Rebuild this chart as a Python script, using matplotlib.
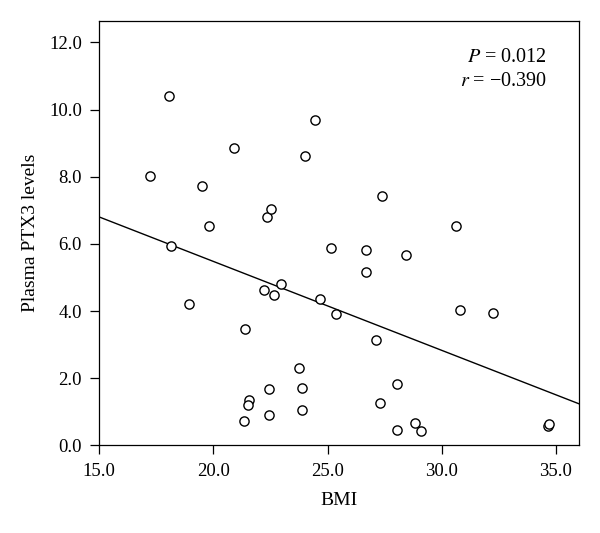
import numpy as np
import matplotlib
matplotlib.use("Agg")
import matplotlib.pyplot as plt

# BMI vs plasma PTX3
bmi = [18.06, 17.21, 20.90, 19.52, 19.80, 22.34, 22.53, 18.14, 24.44, 23.99,
       25.17, 18.91, 22.94, 22.22, 22.65, 24.66, 25.35, 21.39, 23.74, 22.44,
       23.88, 21.56, 21.51, 21.36, 22.44, 23.88, 27.39, 30.64, 26.70, 28.45,
       26.70, 30.79, 32.24, 27.14, 28.04, 27.28, 28.82, 28.04, 29.09, 34.64,
       34.72]
ptx3 = [10.41, 8.02, 8.87, 7.73, 6.52, 6.80, 7.03, 5.94, 9.70, 8.63,
        5.89, 4.21, 4.81, 4.63, 4.47, 4.35, 3.91, 3.46, 2.31, 1.68,
        1.70, 1.34, 1.19, 0.72, 0.90, 1.04, 7.42, 6.53, 5.82, 5.66,
        5.16, 4.02, 3.95, 3.14, 1.83, 1.27, 0.67, 0.46, 0.42, 0.57,
        0.63]
xticks = [15.0, 20.0, 25.0, 30.0, 35.0]
yticks = [0.0, 2.0, 4.0, 6.0, 8.0, 10.0, 12.0]

plt.rcParams['font.family'] = ['Liberation Serif', 'DejaVu Serif']
plt.rcParams['mathtext.fontset'] = 'stix'

fig = plt.figure(figsize=(6, 5.33), dpi=100)
ax = fig.add_axes([0.1655, 0.1645, 0.799, 0.7967])

ax.scatter(bmi, ptx3, s=44, facecolors='white', edgecolors='black', linewidths=1.0, zorder=3)

# linear fit line
slope, icpt = np.polyfit(bmi, ptx3, 1)
xl = np.array([15.0, 36.0])
ax.plot(xl, icpt + slope * xl, color='black', lw=1.0, zorder=2)

ax.set_xlim(15.0, 36.0)
ax.set_ylim(0.0, 12.65)
ax.set_xticks(xticks)
ax.set_xticklabels([f"{t:.1f}" for t in xticks])
ax.set_yticks(yticks)
ax.set_yticklabels([f"{t:.1f}" for t in yticks])
ax.tick_params(direction='out', length=6.5, width=0.9, labelsize=13.5, pad=6)
for s in ax.spines.values():
    s.set_linewidth(0.9)

ax.set_xlabel("BMI", fontsize=14, labelpad=9)
ax.set_ylabel("Plasma PTX3 levels", fontsize=14, labelpad=7)

ax.text(0.933, 0.903, "$P$ = 0.012", transform=ax.transAxes, ha='right', va='baseline', fontsize=14.5)
ax.text(0.933, 0.847, "$r$ = \u22120.390", transform=ax.transAxes, ha='right', va='baseline', fontsize=14.5)

fig.savefig("out.png", dpi=100)
